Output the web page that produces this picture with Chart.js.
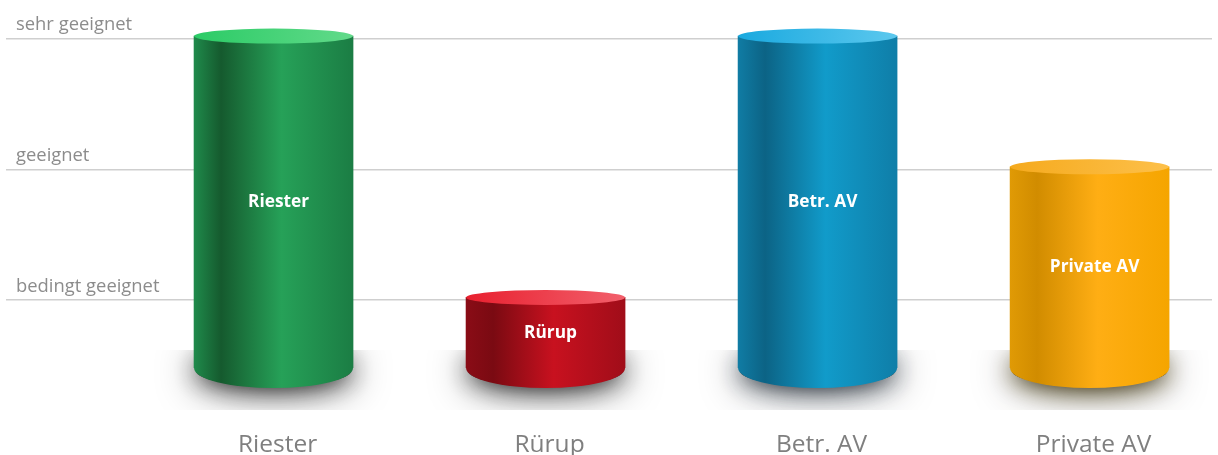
<!DOCTYPE html>
<html>
<head>
<meta charset="utf-8">
<title>Eignung</title>
<script src="https://cdn.jsdelivr.net/npm/chart.js@4"></script>
<style>
    html, body { margin: 0; padding: 0; background: #fff; overflow: hidden; }
    canvas { display: block; }
</style>
</head>
<body>
<canvas id="eignungChart" width="1218" height="455"></canvas>
<script>
// Daten
const categories = ['Riester', 'Rürup', 'Betr. AV', 'Private AV'];
const positions = [1, 2, 3, 4];
const values = [3.02, 1.02, 3.02, 2.02];
const yLabels = ['bedingt geeignet', 'geeignet', 'sehr geeignet'];
const yTicks = [1, 2, 3];
const yMin = 0.48;

// Farben der Zylinder: Mantel (Verlauf), Deckel links/rechts, Schatten
const bodyStops = [
    ['#1f8a4b', '#155a2e', '#26a158', '#1b7d44'],
    ['#8a0c16', '#7a0a12', '#c8111f', '#a00d19'],
    ['#107ca4', '#0c6385', '#119bca', '#0f7ea8'],
    ['#e09a05', '#d18c00', '#ffae14', '#f5a500']
];
const capLeft = ['#2bcb66', '#e8202f', '#1aa9df', '#f5aa1e'];
const capRight = ['#62da8a', '#f2606c', '#5cc8ee', '#fdc04a'];
const shadowColors = ['rgba(20,20,20,0.95)', 'rgba(20,20,20,0.95)', 'rgba(20,30,40,0.95)', 'rgba(50,40,5,1)'];

function bodyGradient(c, x, width, stops) {
    const g = c.createLinearGradient(x - width / 2, 0, x + width / 2, 0);
    g.addColorStop(0, stops[0]);
    g.addColorStop(0.17, stops[1]);
    g.addColorStop(0.55, stops[2]);
    g.addColorStop(1, stops[3]);
    return g;
}

// Schatten unter den Zylindern, Boden und Deckel, Beschriftung im Mantel
const cylinderPlugin = {
    id: 'cylinders',
    beforeDatasetsDraw(chart) {
        const c = chart.ctx;
        chart.getDatasetMeta(0).data.forEach(function (bar, i) {
            c.save();
            c.beginPath();
            c.rect(bar.x - 127, 350, 254, 60);
            c.clip();
            c.shadowColor = shadowColors[i];
            c.fillStyle = '#555';
            // weicher breiter Schatten, dann ein dunklerer direkt am Zylinder
            [42, 24].forEach(function (blur) {
                c.shadowBlur = blur;
                c.beginPath();
                c.ellipse(bar.x, bar.base + 3, bar.width / 2 - 2, 15, 0, 0, Math.PI * 2);
                c.fill();
            });
            c.restore();
        });
    },
    afterDatasetsDraw(chart) {
        const c = chart.ctx;
        chart.getDatasetMeta(0).data.forEach(function (bar, i) {
            c.save();
            c.fillStyle = bodyGradient(c, bar.x, bar.width, bodyStops[i]);
            c.beginPath();
            c.ellipse(bar.x, bar.base, bar.width / 2, 20, 0, 0, Math.PI);
            c.fill();

            const cap = c.createLinearGradient(bar.x - bar.width / 2, 0, bar.x + bar.width / 2, 0);
            cap.addColorStop(0, capLeft[i]);
            cap.addColorStop(1, capRight[i]);
            c.fillStyle = cap;
            c.beginPath();
            c.ellipse(bar.x, bar.y, bar.width / 2, 7.5, 0, 0, Math.PI * 2);
            c.fill();

            c.fillStyle = '#fff';
            c.font = 'bold 17.3px "Open Sans"';
            c.textAlign = 'center';
            c.textBaseline = 'middle';
            c.fillText(categories[i], bar.x + 5, (bar.y + bar.base) / 2);
            c.restore();
        });
    }
};

const eignungCtx = document.getElementById('eignungChart').getContext('2d');
const eignungChart = new Chart(eignungCtx, {
    type: 'bar',
    data: {
        datasets: [{
            data: positions.map(function (p, i) { return { x: p, y: values[i] }; }),
            base: yMin,
            barThickness: 159,
            borderWidth: 0,
            backgroundColor: function (context) {
                const x = context.chart.scales.x.getPixelForValue(positions[context.dataIndex]);
                // beim ersten Durchlauf gibt es noch kein Layout
                if (!Number.isFinite(x)) {
                    return bodyStops[context.dataIndex][2];
                }
                return bodyGradient(context.chart.ctx, x, 159, bodyStops[context.dataIndex]);
            }
        }]
    },
    options: {
        responsive: false,
        animation: false,
        layout: { padding: { left: 6, right: 6, top: 12.6, bottom: 0 } },
        plugins: {
            legend: { display: false },
            tooltip: { enabled: false }
        },
        scales: {
            x: {
                type: 'linear',
                offset: false,
                min: 0.0165,
                max: 4.45,
                afterBuildTicks: function (scale) {
                    scale.ticks = positions.map(function (value) { return { value: value }; });
                },
                afterFit: function (scale) {
                    scale.height = 87;
                    scale.paddingLeft = 0;
                    scale.paddingRight = 0;
                },
                grid: { display: false, drawTicks: false },
                border: { display: false },
                ticks: {
                    autoSkip: false,
                    maxRotation: 0,
                    padding: 62,
                    labelOffset: 4,
                    color: '#7f7f7f',
                    font: { family: 'Open Sans', size: 24.5 },
                    callback: function (value) { return categories[value - 1]; }
                }
            },
            y: {
                min: yMin,
                max: 3.2,
                afterBuildTicks: function (scale) {
                    scale.ticks = yTicks.map(function (value) { return { value: value }; });
                },
                afterFit: function (scale) {
                    scale.width = 0;
                    scale.paddingTop = 0;
                    scale.paddingBottom = 0;
                },
                grid: { color: '#cfcfcf', lineWidth: 1.5, drawTicks: false },
                border: { display: false },
                ticks: {
                    mirror: true,
                    padding: 10,
                    labelOffset: -13.5,
                    color: '#8c8c8c',
                    font: { family: 'Open Sans', size: 18.4 },
                    callback: function (value) { return yLabels[value - 1]; }
                }
            }
        }
    },
    plugins: [cylinderPlugin]
});
</script>
</body>
</html>
